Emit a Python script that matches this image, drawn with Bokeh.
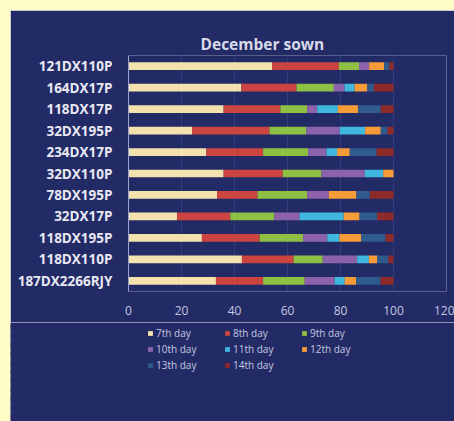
from bokeh.plotting import figure
from bokeh.models import (ColumnDataSource, FactorRange, Range1d, Legend, LegendItem,
                          FixedTicker)
from bokeh.embed import file_html
from bokeh.resources import INLINE

categories = ["121DX110P", "164DX17P", "118DX17P", "32DX195P", "234DX17P", "32DX110P",
              "78DX195P", "32DX17P", "118DX195P", "118DX110P", "187DX2266RJY"]
series_names = ["7th day", "8th day", "9th day", "10th day", "11th day", "12th day",
                "13th day", "14th day"]
d7 = [54.2, 42.6, 35.9, 24.0, 29.4, 35.9, 33.4, 18.3, 27.7, 42.8, 33.0]
d8 = [25.2, 20.8, 21.4, 29.2, 21.4, 22.3, 15.3, 20.1, 21.8, 19.5, 17.8]
d9 = [7.6, 14.1, 10.1, 13.9, 17.0, 14.6, 18.7, 16.6, 16.4, 11.0, 15.7]
d10 = [3.8, 4.0, 3.8, 12.6, 6.9, 16.4, 8.2, 9.6, 9.1, 13.0, 11.3]
d11 = [0.0, 3.8, 7.8, 9.6, 4.0, 6.9, 0.0, 16.6, 4.6, 4.4, 3.8]
d12 = [5.7, 4.8, 7.6, 5.9, 4.8, 3.9, 10.4, 6.0, 8.2, 3.2, 4.3]
d13 = [1.9, 2.5, 8.6, 2.5, 10.1, 0.0, 5.1, 6.6, 9.2, 4.2, 9.2]
d14 = [1.6, 7.4, 4.8, 2.3, 6.4, 0.0, 8.9, 6.2, 3.0, 1.9, 4.9]
x_ticks = [0, 20, 40, 60, 80, 100, 120]

colors = ["#F3E2AE", "#CC4440", "#8EC044", "#8C63AA", "#3FB7DE", "#F59B38",
          "#2F5C8C", "#8E2A2A"]
NAVY = "#232B66"
CREAM = "#FFFCC8"

keys = ["d7", "d8", "d9", "d10", "d11", "d12", "d13", "d14"]
source = ColumnDataSource(dict(cat=categories, d7=d7, d8=d8, d9=d9, d10=d10, d11=d11,
                               d12=d12, d13=d13, d14=d14))

# main chart
p = figure(width=444, height=312, y_range=FactorRange(*reversed(categories)),
           x_range=Range1d(0, 120), output_backend="svg", toolbar_location=None,
           min_border_left=118, min_border_right=8, min_border_top=45,
           min_border_bottom=31)
p.styles = {"position": "absolute", "left": "10px", "top": "10px",
            "box-shadow": "-10px -10px 0px 10px " + CREAM}
p.border_fill_color = NAVY
p.background_fill_color = NAVY
p.outline_line_color = None

p.title.text = "December sown"
p.title.align = "left"
p.title.offset = 72
p.title.standoff = 1
p.title.text_font = "Open Sans"
p.title.text_font_style = "bold"
p.title.text_font_size = "15.5px"
p.title.text_color = "#D8DAE8"

p.hbar_stack(keys, y="cat", height=0.36, color=colors, source=source, line_color=None)

p.xaxis.ticker = FixedTicker(ticks=x_ticks)
p.xaxis.axis_line_color = None
p.xaxis.major_tick_line_color = None
p.xaxis.minor_tick_line_color = None
p.xaxis.major_label_standoff = 8
p.xaxis.major_label_text_font = "Open Sans"
p.xaxis.major_label_text_font_size = "12px"
p.xaxis.major_label_text_color = "#C4C8E0"

p.yaxis.axis_line_color = "#9BA3D0"
p.yaxis.major_tick_line_color = None
p.yaxis.minor_tick_line_color = None
p.yaxis.major_label_standoff = 10
p.yaxis.major_label_text_font = "Open Sans"
p.yaxis.major_label_text_font_style = "bold"
p.yaxis.major_label_text_font_size = "13.5px"
p.yaxis.major_label_text_color = "#E8E8F2"

p.xgrid.grid_line_color = "#313C7A"
p.ygrid.grid_line_color = None

# legend strip (same data, drawn off its visible range so only the legend shows)
p2 = figure(width=444, height=99, x_range=Range1d(1000, 1001),
            y_range=FactorRange(*categories), output_backend="svg",
            toolbar_location=None, x_axis_type=None, y_axis_type=None, min_border=0)
p2.styles = {"position": "absolute", "left": "10px", "top": "322px",
             "box-shadow": "-10px 0px 0px 0px " + CREAM}
p2.border_fill_color = NAVY
p2.background_fill_color = NAVY
p2.outline_line_color = None

legend_renderers = p2.hbar_stack(keys, y="cat", height=0.36, color=colors,
                                 source=source, line_color=None)
items = [LegendItem(label=n, renderers=[r]) for n, r in zip(series_names, legend_renderers)]
legend = Legend(items=items, orientation="horizontal", ncols=3, location=(137, 49),
                glyph_width=6, glyph_height=6, label_standoff=3, label_width=66,
                label_height=11, spacing=2, padding=0, margin=0,
                label_text_font="Open Sans", label_text_font_size="10px",
                label_text_color="#C4C8E0", border_line_color=None,
                background_fill_alpha=0)
p2.add_layout(legend, "center")

open("out.html", "w").write(file_html([p, p2], INLINE))
